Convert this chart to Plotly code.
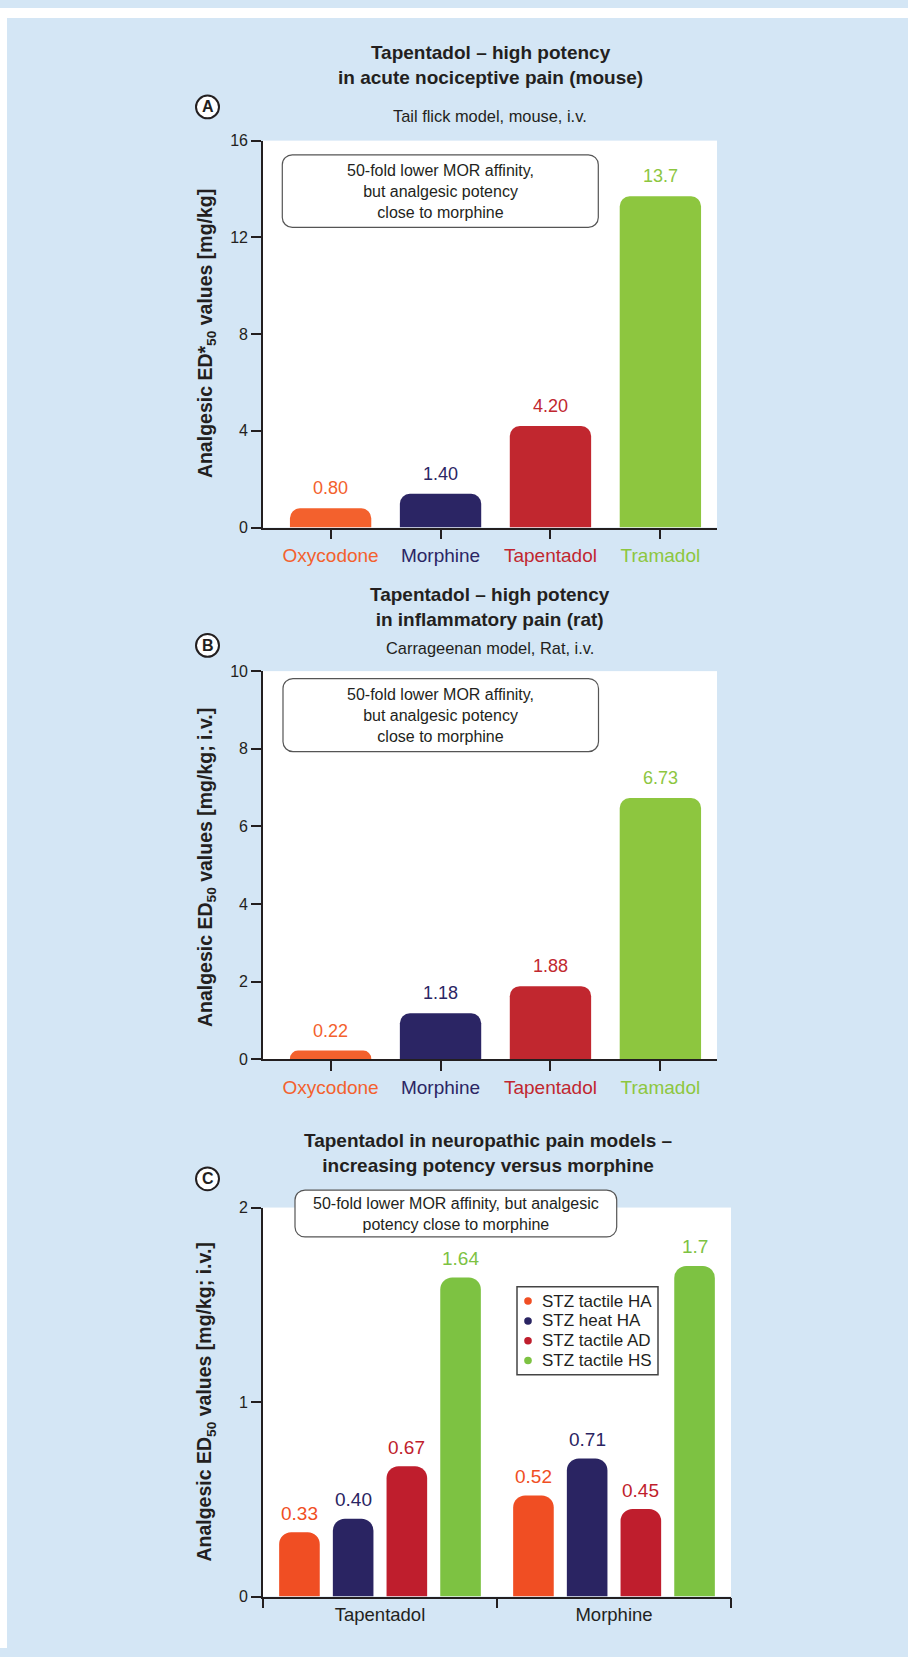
import plotly.graph_objects as go

W, H = 908, 1657
FONT = "Liberation Sans, Arial, Helvetica, sans-serif"
DARK = "#231F20"
BG = "#D4E6F5"

# ---------------- data ----------------
drugs = ["Oxycodone", "Morphine", "Tapentadol", "Tramadol"]
drug_colors = ["#F3612D", "#2B2564", "#C1272F", "#8DC63F"]

tail_flick_ed50 = [0.80, 1.40, 4.20, 13.7]
tail_flick_labels = ["0.80", "1.40", "4.20", "13.7"]

carrageenan_ed50 = [0.22, 1.18, 1.88, 6.73]
carrageenan_labels = ["0.22", "1.18", "1.88", "6.73"]

neuro_groups = ["Tapentadol", "Morphine"]
neuro_series = ["STZ tactile HA", "STZ heat HA", "STZ tactile AD", "STZ tactile HS"]
neuro_colors = ["#F04E23", "#2A2462", "#BF1E2D", "#7DC242"]
stz_tactile_ha = [0.33, 0.52]
stz_heat_ha = [0.40, 0.71]
stz_tactile_ad = [0.67, 0.45]
stz_tactile_hs = [1.64, 1.70]
neuro_values = [stz_tactile_ha, stz_heat_ha, stz_tactile_ad, stz_tactile_hs]
neuro_labels = [["0.33", "0.52"], ["0.40", "0.71"], ["0.67", "0.45"], ["1.64", "1.7"]]

# ---------------- helpers (pixel -> paper) ----------------
def px(x):
    return x / W

def py(y):
    return 1 - y / H

def rrect_path(x0, y0, x1, y1, r):
    k = 0.5523 * r
    pts = [
        ("M", [(x0 + r, y0)]),
        ("L", [(x1 - r, y0)]),
        ("C", [(x1 - r + k, y0), (x1, y0 + r - k), (x1, y0 + r)]),
        ("L", [(x1, y1 - r)]),
        ("C", [(x1, y1 - r + k), (x1 - r + k, y1), (x1 - r, y1)]),
        ("L", [(x0 + r, y1)]),
        ("C", [(x0 + r - k, y1), (x0, y1 - r + k), (x0, y1 - r)]),
        ("L", [(x0, y0 + r)]),
        ("C", [(x0, y0 + r - k), (x0 + r - k, y0), (x0 + r, y0)]),
    ]
    s = ""
    for cmd, ps in pts:
        s += cmd + " ".join(f"{px(a):.5f},{py(b):.5f}" for a, b in ps)
    return s + "Z"

fig = go.Figure()

# ---------------- Panel A ----------------
fig.add_trace(go.Bar(
    x=drugs, y=tail_flick_ed50, xaxis="x", yaxis="y",
    marker=dict(color=drug_colors, line=dict(width=0), cornerradius=10),
    width=0.74, showlegend=False, hoverinfo="x+y"))

# ---------------- Panel B ----------------
fig.add_trace(go.Bar(
    x=drugs, y=carrageenan_ed50, xaxis="x2", yaxis="y2",
    marker=dict(color=drug_colors, line=dict(width=0), cornerradius=10),
    width=0.74, showlegend=False, hoverinfo="x+y"))

# ---------------- Panel C ----------------
for name, vals, col in zip(neuro_series, neuro_values, neuro_colors):
    fig.add_trace(go.Bar(
        x=neuro_groups, y=vals, name=name, xaxis="x3", yaxis="y3",
        marker=dict(color=col, line=dict(width=0), cornerradius=12),
        showlegend=False, hoverinfo="name+y"))

annotations = []
# value labels A and B
for ax, vals, labs in (("", tail_flick_ed50, tail_flick_labels),
                       ("2", carrageenan_ed50, carrageenan_labels)):
    for d, v, t, c in zip(drugs, vals, labs, drug_colors):
        annotations.append(dict(x=d, y=v, xref="x" + ax, yref="y" + ax, text=t,
                                showarrow=False, yanchor="middle", yshift=20,
                                font=dict(size=18, color=c, family=FONT)))

# value labels C (grouped)
BARGAP = 0.082
cat_px = (731 - 263) / 2
slot = cat_px * (1 - BARGAP) / 4
for i, (vals, labs, col) in enumerate(zip(neuro_values, neuro_labels, neuro_colors)):
    for g, v, t in zip(neuro_groups, vals, labs):
        annotations.append(dict(x=g, y=v, xref="x3", yref="y3", text=t,
                                showarrow=False, yanchor="middle", yshift=19,
                                xshift=(i - 1.5) * slot,
                                font=dict(size=19, color=col, family=FONT)))

# titles
def paper_text(x, y, text, size, bold=False, angle=0, anchor="center", color=DARK):
    annotations.append(dict(x=px(x), y=py(y), xref="paper", yref="paper",
                            text=f"<b>{text}</b>" if bold else text,
                            showarrow=False, xanchor=anchor, yanchor="middle",
                            textangle=angle, align="center",
                            font=dict(size=size, color=color, family=FONT)))

paper_text(490, 58, "Tapentadol – high potency<br>in acute nociceptive pain (mouse)", 19, True)
paper_text(490, 109, "Tail flick model, mouse, i.v.", 16.4)
paper_text(490, 605, "Tapentadol – high potency<br>in inflammatory pain (rat)", 19, True)
paper_text(490, 647, "Carrageenan model, Rat, i.v.", 16.4)
paper_text(488, 1157, "Tapentadol in neuropathic pain models –<br>increasing potency versus morphine", 19, True)

# y-axis titles
paper_text(206, 329.5, "Analgesic ED*<sub>50</sub> values [mg/kg]", 19.5, True, -90)
paper_text(206, 869, "Analgesic ED<sub>50</sub> values [mg/kg; i.v.]", 19.5, True, -90)
paper_text(206, 1409, "Analgesic ED<sub>50</sub> values [mg/kg; i.v.]", 19.5, True, -90)

# info boxes
box_text = "50-fold lower MOR affinity,<br>but analgesic potency<br>close to morphine"
paper_text(440.3, 185, box_text, 16)
paper_text(440.5, 714.5, box_text, 16)
paper_text(456, 1218.5, "50-fold lower MOR affinity, but analgesic<br>potency close to morphine", 16)

# panel letters
for letter, cy in (("A", 100), ("B", 644), ("C", 1183)):
    paper_text(207.5, cy, letter, 16, True)

shapes = [
    # white strips outside the blue panel
    dict(type="rect", xref="paper", yref="paper", x0=0, x1=1, y0=py(10), y1=1,
         fillcolor="white", line=dict(width=0), layer="below"),
    dict(type="rect", xref="paper", yref="paper", x0=0, x1=px(7), y0=0, y1=1,
         fillcolor="white", line=dict(width=0), layer="below"),
]
for (x0, y0, x1, y1) in ((282.3, 148.3, 598.3, 221.7),
                         (283, 677.5, 598.5, 751.4),
                         (295, 1194.3, 616.7, 1241.7)):
    shapes.append(dict(type="path", xref="paper", yref="paper",
                       path=rrect_path(x0, y0, x1, y1, 10),
                       fillcolor="white", line=dict(color="#555555", width=1.2),
                       layer="above"))
for cy in (100, 644, 1183):
    r = 11.5
    shapes.append(dict(type="circle", xref="paper", yref="paper",
                       x0=px(207.5 - r), x1=px(207.5 + r), y0=py(cy + r), y1=py(cy - r),
                       fillcolor="white", line=dict(color=DARK, width=2), layer="above"))

# legend for panel C (box, dots, labels)
shapes.append(dict(type="rect", xref="paper", yref="paper",
                   x0=px(517), x1=px(658), y0=py(1381), y1=py(1292),
                   fillcolor="white", line=dict(color="#444444", width=1.5),
                   layer="above"))
leg_y = [1306.5, 1326.5, 1346.5, 1366.5]
for name, col, ly in zip(neuro_series, neuro_colors, leg_y):
    rr = 3.8
    shapes.append(dict(type="circle", xref="paper", yref="paper",
                       x0=px(528 - rr), x1=px(528 + rr), y0=py(ly + rr), y1=py(ly - rr),
                       fillcolor=col, line=dict(width=0), layer="above"))
    paper_text(540, ly, name, 17, anchor="left")

tick_text = [f"<span style='color:{c}'>{d}</span>" for d, c in zip(drugs, drug_colors)]

yax_common = dict(showgrid=False, zeroline=False, showline=True, linecolor=DARK,
                  linewidth=1.6, ticks="outside", ticklen=10, tickwidth=1.6,
                  tickcolor=DARK, tickfont=dict(size=16, color=DARK, family=FONT),
                  fixedrange=True)
xax_common = dict(showgrid=False, zeroline=False, showline=True, linecolor=DARK,
                  linewidth=1.6, ticks="outside", ticklen=10, tickwidth=1.6,
                  tickcolor=DARK, type="category", fixedrange=True)

fig.update_layout(
    width=W, height=H, autosize=False,
    margin=dict(l=0, r=0, t=0, b=0, pad=0),
    paper_bgcolor=BG, plot_bgcolor="white",
    font=dict(family=FONT, color=DARK),
    showlegend=False,
    barmode="group", bargap=BARGAP, bargroupgap=0.244,
    xaxis=dict(**xax_common, domain=[px(263), px(717)], anchor="y",
               range=[-0.615, 3.515], tickmode="array", tickvals=drugs,
               ticktext=tick_text, tickfont=dict(size=19, family=FONT)),
    yaxis=dict(**yax_common, domain=[py(525), py(134)], anchor="x",
               range=[0, 16], tickmode="array", tickvals=[0, 4, 8, 12, 16]),
    xaxis2=dict(**xax_common, domain=[px(263), px(717)], anchor="y2",
                range=[-0.615, 3.515], tickmode="array", tickvals=drugs,
                ticktext=tick_text, tickfont=dict(size=19, family=FONT)),
    yaxis2=dict(**yax_common, domain=[py(1062), py(670)], anchor="x2",
                range=[0, 10], tickmode="array", tickvals=[0, 2, 4, 6, 8, 10]),
    xaxis3=dict(**xax_common, domain=[px(263), px(731)], anchor="y3",
                range=[-0.5, 1.5], tickson="boundaries",
                tickfont=dict(size=18.5, color=DARK, family=FONT)),
    yaxis3=dict(**yax_common, domain=[py(1605), py(1212)], anchor="x3",
                range=[0, 2], tickmode="array", tickvals=[0, 1, 2]),
    annotations=annotations,
    shapes=shapes,
)

fig.write_html("out.html")
